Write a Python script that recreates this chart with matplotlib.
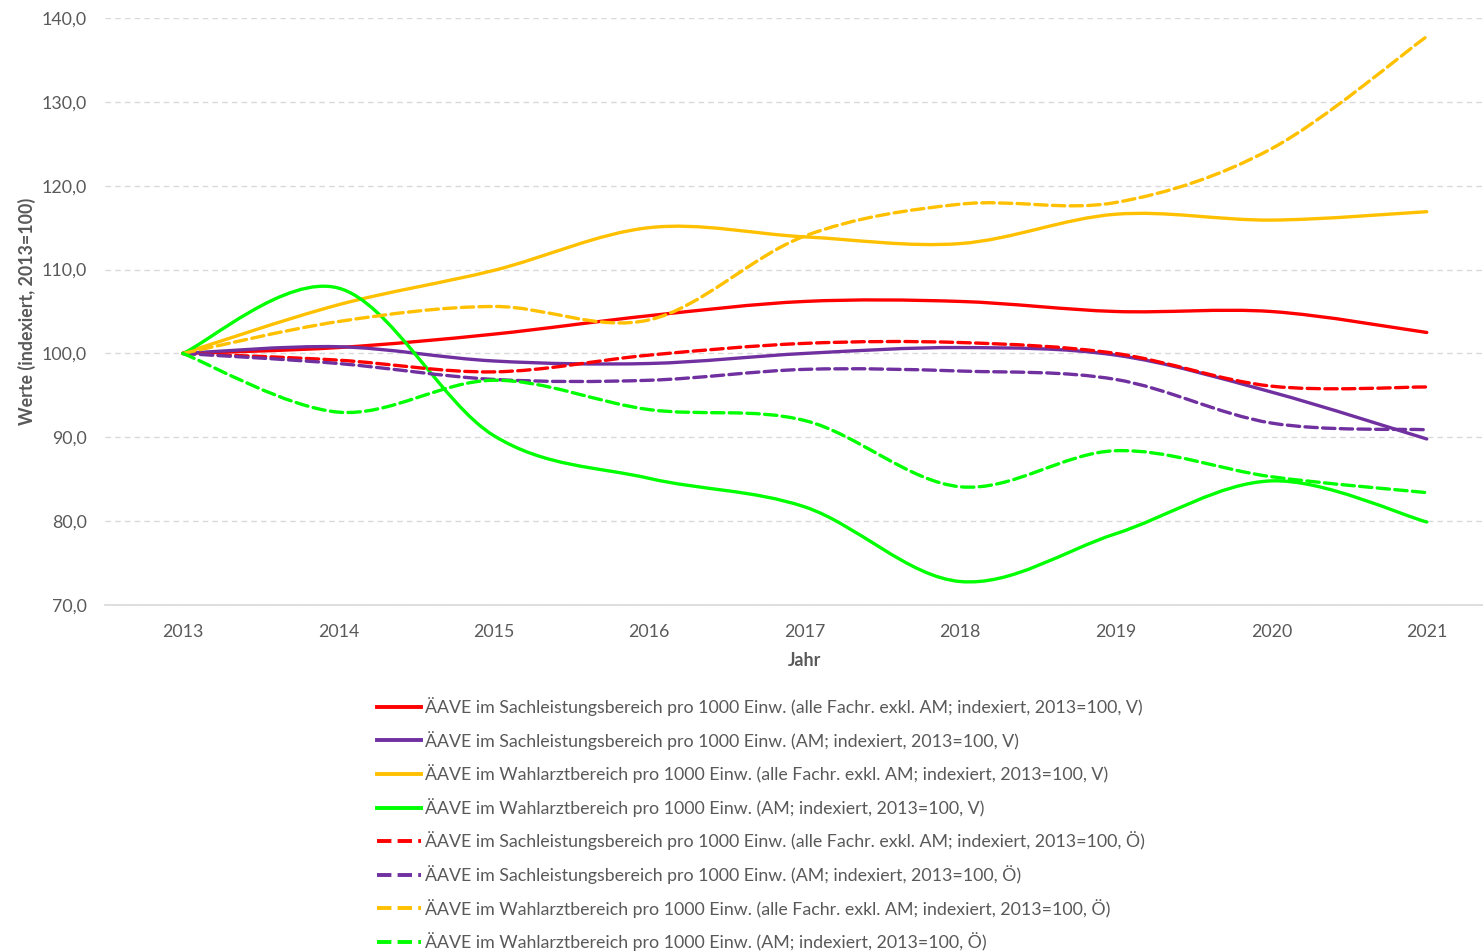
import matplotlib
matplotlib.use('Agg')
import matplotlib.pyplot as plt
from matplotlib.path import Path
from matplotlib.patches import PathPatch
from matplotlib.lines import Line2D

plt.rcParams['font.family'] = ['Lato', 'DejaVu Sans']

# -------------------------------------------------------------------
# Daten (indexiert, 2013=100)
# -------------------------------------------------------------------
years = [2013, 2014, 2015, 2016, 2017, 2018, 2019, 2020, 2021]

sach_alle_v = [100.0, 100.7, 102.3, 104.5, 106.2, 106.2, 105.0, 105.0, 102.5]
sach_am_v = [100.0, 100.8, 99.1, 98.8, 100.0, 100.7, 99.8, 95.4, 89.8]
wahl_alle_v = [100.0, 105.8, 109.9, 115.0, 113.9, 113.1, 116.6, 115.9, 116.9]
wahl_am_v = [100.0, 107.8, 90.2, 85.1, 81.7, 72.8, 78.5, 84.8, 79.9]
sach_alle_oe = [100.0, 99.2, 97.8, 99.8, 101.2, 101.3, 100.0, 96.1, 96.0]
sach_am_oe = [100.0, 98.8, 96.9, 96.8, 98.1, 97.9, 96.9, 91.7, 90.9]
wahl_alle_oe = [100.0, 103.8, 105.6, 104.0, 114.0, 117.8, 118.0, 124.4, 137.8]
wahl_am_oe = [100.0, 93.0, 96.8, 93.3, 92.0, 84.1, 88.4, 85.3, 83.4]

labels = [
    'ÄAVE im Sachleistungsbereich pro 1000 Einw. (alle Fachr. exkl. AM; indexiert, 2013=100, V)',
    'ÄAVE im Sachleistungsbereich pro 1000 Einw. (AM; indexiert, 2013=100, V)',
    'ÄAVE im Wahlarztbereich pro 1000 Einw. (alle Fachr. exkl. AM; indexiert, 2013=100, V)',
    'ÄAVE im Wahlarztbereich pro 1000 Einw. (AM; indexiert, 2013=100, V)',
    'ÄAVE im Sachleistungsbereich pro 1000 Einw. (alle Fachr. exkl. AM; indexiert, 2013=100, Ö)',
    'ÄAVE im Sachleistungsbereich pro 1000 Einw. (AM; indexiert, 2013=100, Ö)',
    'ÄAVE im Wahlarztbereich pro 1000 Einw. (alle Fachr. exkl. AM; indexiert, 2013=100, Ö)',
    'ÄAVE im Wahlarztbereich pro 1000 Einw. (AM; indexiert, 2013=100, Ö)',
]
series = [sach_alle_v, sach_am_v, wahl_alle_v, wahl_am_v,
          sach_alle_oe, sach_am_oe, wahl_alle_oe, wahl_am_oe]
colors = ['#FF0000', '#7030A0', '#FFC000', '#00FF00'] * 2
styles = ['-'] * 4 + ['--'] * 4

grau = '#595959'


def smooth_path(xs, ys):
    # Excel-artige geglaettete Linie als Bezier-Pfad
    pts = list(zip(xs, ys))
    n = len(pts)
    verts = [pts[0]]
    codes = [Path.MOVETO]
    for i in range(n - 1):
        p0 = pts[i - 1] if i > 0 else pts[i]
        p1 = pts[i]
        p2 = pts[i + 1]
        p3 = pts[i + 2] if i + 2 < n else pts[i + 1]
        c1 = (p1[0] + (p2[0] - p0[0]) / 6, p1[1] + (p2[1] - p0[1]) / 6)
        c2 = (p2[0] - (p3[0] - p1[0]) / 6, p2[1] - (p3[1] - p1[1]) / 6)
        verts += [c1, c2, p2]
        codes += [Path.CURVE4] * 3
    return Path(verts, codes)


fig = plt.figure(figsize=(14.83, 9.51), dpi=100)
W, H = 1483, 951
ax = fig.add_axes([105 / W, 1 - 605 / H, 1399.5 / W, 587 / H])

for ys, c, ls in zip(series, colors, styles):
    patch = PathPatch(smooth_path(years, ys), fill=False, edgecolor=c,
                      linewidth=2.4, linestyle=ls, capstyle='round')
    ax.add_patch(patch)

ax.set_xlim(2012.5, 2021.5)
ax.set_ylim(70, 140)
ax.set_xticks(years)
ax.set_yticks(range(70, 141, 10))
ax.set_yticklabels([f'{v},0' for v in range(70, 141, 10)])
ax.tick_params(length=0, labelsize=12.8, labelcolor=grau)
ax.tick_params(axis='y', pad=13)
ax.tick_params(axis='x', pad=14)
ax.grid(axis='y', color='#D9D9D9', linestyle=(0, (4, 3)), linewidth=1)
for s in ['top', 'right', 'left']:
    ax.spines[s].set_visible(False)
ax.spines['bottom'].set_color('#D9D9D9')
ax.spines['bottom'].set_linewidth(1.2)
ax.set_axisbelow(True)

fig.text(27 / W, 1 - 311 / H, 'Werte (indexiert, 2013=100)', rotation=90,
         ha='center', va='center', fontsize=12.8, fontweight='bold', color=grau)
fig.text(805 / W, 1 - 660 / H, 'Jahr', ha='center', va='center',
         fontsize=12.8, fontweight='bold', color=grau)

handles = [Line2D([0], [0], color=c, linestyle=ls, linewidth=2.8)
           for c, ls in zip(colors, styles)]
leg = fig.legend(handles, labels, loc='upper left',
                 bbox_to_anchor=(370 / W, 1 - 690 / H), frameon=False,
                 fontsize=12.8, labelcolor=grau, handlelength=2.45,
                 handletextpad=0.25, labelspacing=0.825, borderaxespad=0)

fig.savefig('out.png', dpi=100)
